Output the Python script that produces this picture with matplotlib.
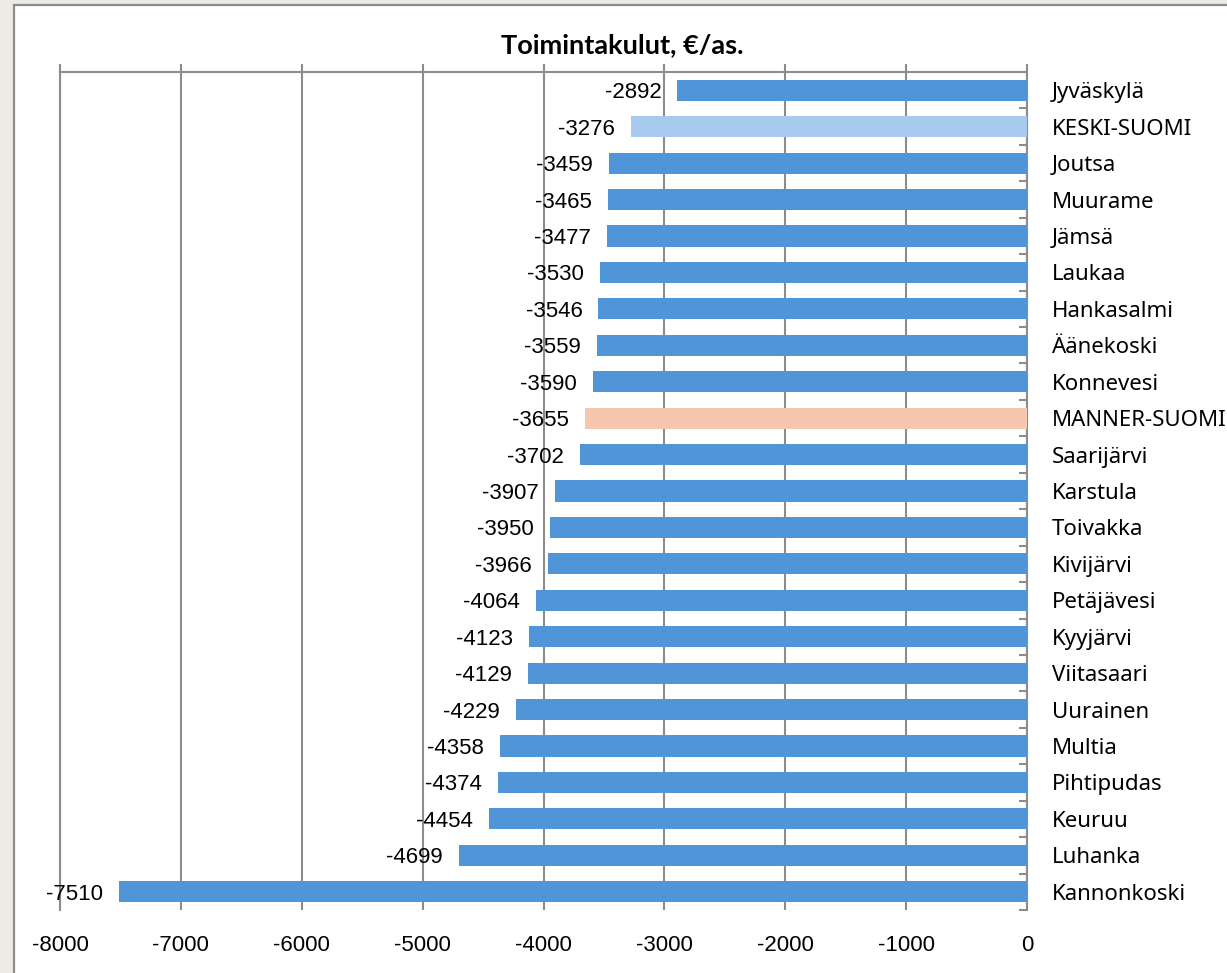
import matplotlib.pyplot as plt
from matplotlib.patches import Rectangle
from matplotlib.ticker import FixedLocator

# data, top to bottom
kunnat = [
    "Jyväskylä", "KESKI-SUOMI", "Joutsa", "Muurame", "Jämsä", "Laukaa",
    "Hankasalmi", "Äänekoski", "Konnevesi", "MANNER-SUOMI", "Saarijärvi",
    "Karstula", "Toivakka", "Kivijärvi", "Petäjävesi", "Kyyjärvi",
    "Viitasaari", "Uurainen", "Multia", "Pihtipudas", "Keuruu", "Luhanka",
    "Kannonkoski",
]
kulut = [
    -2892, -3276, -3459, -3465, -3477, -3530, -3546, -3559, -3590, -3655,
    -3702, -3907, -3950, -3966, -4064, -4123, -4129, -4229, -4358, -4374,
    -4454, -4699, -7510,
]
x_ticks = [-8000, -7000, -6000, -5000, -4000, -3000, -2000, -1000, 0]

BLUE = "#4F95D8"
LIGHT = "#A7CAEE"
PEACH = "#F6C7AE"
GRID = "#8C8C8C"

colors = []
for k in kunnat:
    if k == "KESKI-SUOMI":
        colors.append(LIGHT)
    elif k == "MANNER-SUOMI":
        colors.append(PEACH)
    else:
        colors.append(BLUE)

fig = plt.figure(figsize=(12.27, 9.73), dpi=100)
fig.patch.set_facecolor("#EEEBE6")
W, H = 1227, 973
frame = Rectangle((14 / W, -0.1), 1.2, 1.1 - 5 / H, transform=fig.transFigure,
                  facecolor="white", edgecolor=GRID, linewidth=1.6,
                  zorder=-5)
fig.add_artist(frame)

ax = fig.add_axes([60 / W, 1 - 910 / H, (1027 - 60) / W, (910 - 72) / H])
ax.set_facecolor("white")

ypos = list(range(len(kunnat)))
ax.barh(ypos, kulut, height=0.58, color=colors, zorder=3)

for y, v in zip(ypos, kulut):
    ax.annotate(str(v), xy=(v, y), xytext=(-11.5, 0),
                textcoords="offset points", ha="right", va="center_baseline",
                fontsize=16, family="Liberation Sans", zorder=4)

ax.set_xlim(-8000, 0)
ax.set_ylim(len(kunnat) - 0.5, -0.5)

ax.xaxis.set_major_locator(FixedLocator(x_ticks))
ax.set_xticklabels([str(t) for t in x_ticks], family="Liberation Sans",
                   fontsize=16)
ax.tick_params(axis="x", top=True, bottom=False, labeltop=False,
               labelbottom=True, direction="out", length=6, width=1.5,
               color=GRID, pad=12)
ax.grid(axis="x", color=GRID, linewidth=1.5, zorder=1)

ax.yaxis.tick_right()
ax.set_yticks(ypos)
ax.set_yticklabels(kunnat, family="Noto Sans", fontsize=16)
ax.tick_params(axis="y", which="major", length=0, pad=18)
ax.yaxis.set_minor_locator(FixedLocator([i - 0.5 for i in range(len(kunnat) + 1)]))
ax.tick_params(axis="y", which="minor", right=True, left=False,
               direction="in", length=6, width=1.5, color=GRID)

for side in ["left", "top", "right"]:
    ax.spines[side].set_color(GRID)
    ax.spines[side].set_linewidth(1.5)
ax.spines["bottom"].set_visible(False)

fig.text(622 / W, 1 - 53 / H, "Toimintakulut, €/as.", ha="center",
         va="baseline", fontsize=19.5, fontweight="bold", family="Lato")

fig.savefig("out.png", dpi=100, facecolor=fig.get_facecolor())
